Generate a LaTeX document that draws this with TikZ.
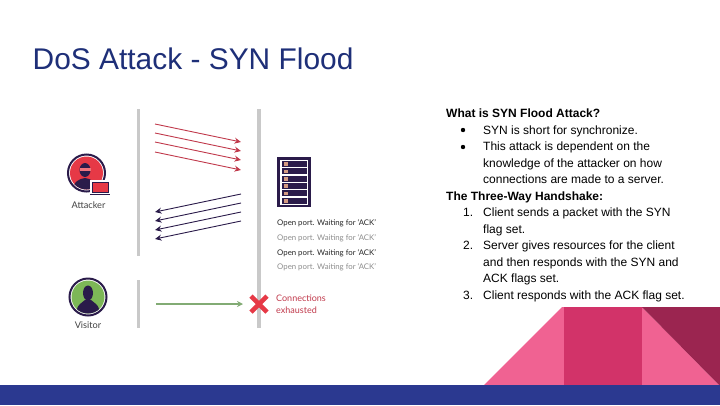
\documentclass[tikz,border=0pt]{standalone}
\usepackage{fontspec}
\setmainfont{Liberation Sans}
\newfontfamily\iconfont{Lato}
\usetikzlibrary{arrows.meta}
\definecolor{navy}{HTML}{2B3990}
\definecolor{pinkA}{HTML}{F06292}
\definecolor{pinkB}{HTML}{D23369}
\definecolor{wine}{HTML}{9B2550}
\definecolor{inkP}{HTML}{2A1B4A}
\definecolor{redA}{HTML}{E63946}
\definecolor{redL}{HTML}{C0394B}
\definecolor{greenA}{HTML}{7DB757}
\definecolor{greenL}{HTML}{82AB74}
\definecolor{barG}{HTML}{C9C9C9}
\definecolor{titleC}{HTML}{1E2F78}
\definecolor{ledC}{HTML}{D49A80}
\tikzset{
  x=1pt,y=-1pt,
  attackline/.style={draw=redL,line width=0.9pt,-{Stealth[length=6.5pt,width=6pt]}},
  replyline/.style={draw=inkP,line width=0.9pt,-{Stealth[length=6.5pt,width=6pt]}},
  okline/.style={draw=greenL,line width=1.4pt,-{Stealth[length=6pt,width=6pt]}},
  greybar/.style={fill=barG,draw=none},
  bodytext/.style={anchor=base west,inner sep=0pt,font=\fontsize{12}{13}\selectfont,text=black},
  boldtext/.style={bodytext,font=\bfseries\fontsize{12}{13}\selectfont},
  smalltext/.style={anchor=west,inner sep=0pt,font=\iconfont\fontsize{7.8}{9}\selectfont,text=#1},
  redtext/.style={anchor=west,inner sep=0pt,font=\iconfont\fontsize{9}{10}\selectfont,text=redL},
  iconcap/.style={anchor=center,inner sep=0pt,font=\iconfont\fontsize{9.2}{10}\selectfont,text=black!75},
  ringicon/.style={circle,draw=inkP,line width=2pt,fill=white,inner sep=0pt,minimum size=37pt},
  dotmark/.style={circle,fill=black,inner sep=0pt,minimum size=4.4pt},
}
\begin{document}
\begin{tikzpicture}
\useasboundingbox (0,0) rectangle (720,405);
% decoration
\fill[pinkA] (484,385) -- (562,307) -- (564,307) -- (564,385) -- cycle;
\fill[pinkB] (564,307) rectangle (643,385);
\fill[pinkA] (642,307) -- (719,385) -- (642,385) -- cycle;
\fill[wine] (642,307) -- (720,307) -- (720,385) -- (719,385) -- cycle;
\fill[navy] (0,385) rectangle (720,405);
% title
\node[anchor=base west,inner sep=0pt,font=\fontsize{29.9}{32}\selectfont,text=titleC] (title) at (32.5,69) {DoS Attack - SYN Flood};
% bars
\fill[greybar] (137,109) rectangle (140,256);
\fill[greybar] (137,280) rectangle (140,328);
\fill[greybar] (257,109) rectangle (261,328);
% attacker icon
\node[ringicon] (attacker) at (86.5,173) {};
\fill[redA] (attacker.center) circle (16.5);
\begin{scope}
\clip (attacker.center) circle (16.5);
\fill[inkP] (85,170) ellipse (5.5 and 7);
\fill[redA!70!white] (80,168) rectangle (91,170.5);
\fill[inkP] (73,192) .. controls (73,181) and (79,179) .. (85,178) .. controls (91,179) and (97,181) .. (97,192) -- cycle;
\end{scope}
\fill[white] (90,180) rectangle (111,197);
\fill[redA,draw=inkP,line width=0.8pt] (92,182) rectangle (108.5,192);
\fill[inkP] (90,193.5) rectangle (110,195);
\node[iconcap] (attackerLabel) at (88.5,205) {Attacker};
% visitor icon
\node[ringicon] (visitor) at (88,297) {};
\fill[greenA] (visitor.center) circle (16.5);
\begin{scope}
\clip (visitor.center) circle (16.5);
\fill[inkP] (88,293) ellipse (5 and 7.5);
\fill[inkP] (76,316) .. controls (76,304) and (82,303) .. (85,300) -- (91,300) .. controls (94,303) and (100,304) .. (100,316) -- cycle;
\end{scope}
\node[iconcap] (visitorLabel) at (88,325) {Visitor};
% server
\fill[inkP] (277,157) rectangle (311,207);
\fill[white] (280,159.5) rectangle (308,204.5);
\foreach \r in {0,1,2,3,4,5}{
  \fill[inkP] (281.5,{161+\r*7.35}) rectangle (306.5,{167+\r*7.35});
  \fill[ledC] (283.5,{162.2+\r*7.35}) rectangle (287.5,{165.8+\r*7.35});
}
\node[inner sep=0pt,minimum width=34pt,minimum height=50pt] (server) at (294,182) {};
% red arrows
\foreach \n/\a/\b in {1/124/142,2/133/151,3/142/160,4/152/170}{
  \coordinate (as\n) at (155,\a); \coordinate (ae\n) at (241,\b);
  \draw[attackline] (as\n) -- (ae\n);
}
% black arrows
\foreach \n/\a/\b in {1/194/212,2/203/221,3/212/230,4/221/239}{
  \coordinate (bs\n) at (241,\a); \coordinate (be\n) at (155,\b);
  \draw[replyline] (bs\n) -- (be\n);
}
% visitor arrow
\coordinate (vs) at (156,304); \coordinate (ve) at (243,304);
\draw[okline] (vs) -- (ve);
% cross
\draw[redA,line width=4.6pt] (251,296) -- (267,312) (267,296) -- (251,312);
% labels
\node[smalltext=black!85] (l1) at (277,223.5) {Open port. Waiting for ‘ACK’};
\node[smalltext=black!45] (l2) at (277,238.5) {Open port. Waiting for ‘ACK’};
\node[smalltext=black!85] (l3) at (277,253) {Open port. Waiting for ‘ACK’};
\node[smalltext=black!45] (l4) at (277,267.5) {Open port. Waiting for ‘ACK’};
\node[redtext] (c1) at (276,298) {Connections};
\node[redtext] (c2) at (276,310) {exhausted};
% body text
\node[boldtext] (t1) at (446,117) {What is SYN Flood Attack?};
\node[dotmark] (d1) at (463,130) {}; \node[dotmark] (d2) at (463,147) {};
\node[bodytext] (t2) at (483,134) {SYN is short for synchronize.};
\node[bodytext] (t3) at (483,150) {This attack is dependent on the};
\node[bodytext] (t4) at (483,167) {knowledge of the attacker on how};
\node[bodytext] (t5) at (483,183) {connections are made to a server.};
\node[boldtext] (t6) at (446,200) {The Three-Way Handshake:};
\node[bodytext] (n1) at (463,216) {1.};\node[bodytext] (t7) at (483,216) {Client sends a packet with the SYN};
\node[bodytext] (t8) at (483,233) {flag set.};
\node[bodytext] (n2) at (463,249) {2.};\node[bodytext] (t9) at (483,249) {Server gives resources for the client};
\node[bodytext] (t10) at (483,266) {and then responds with the SYN and};
\node[bodytext] (t11) at (483,282) {ACK flags set.};
\node[bodytext] (n3) at (463,299) {3.};\node[bodytext] (t12) at (483,299) {Client responds with the ACK flag set.};
\end{tikzpicture}
\end{document}
